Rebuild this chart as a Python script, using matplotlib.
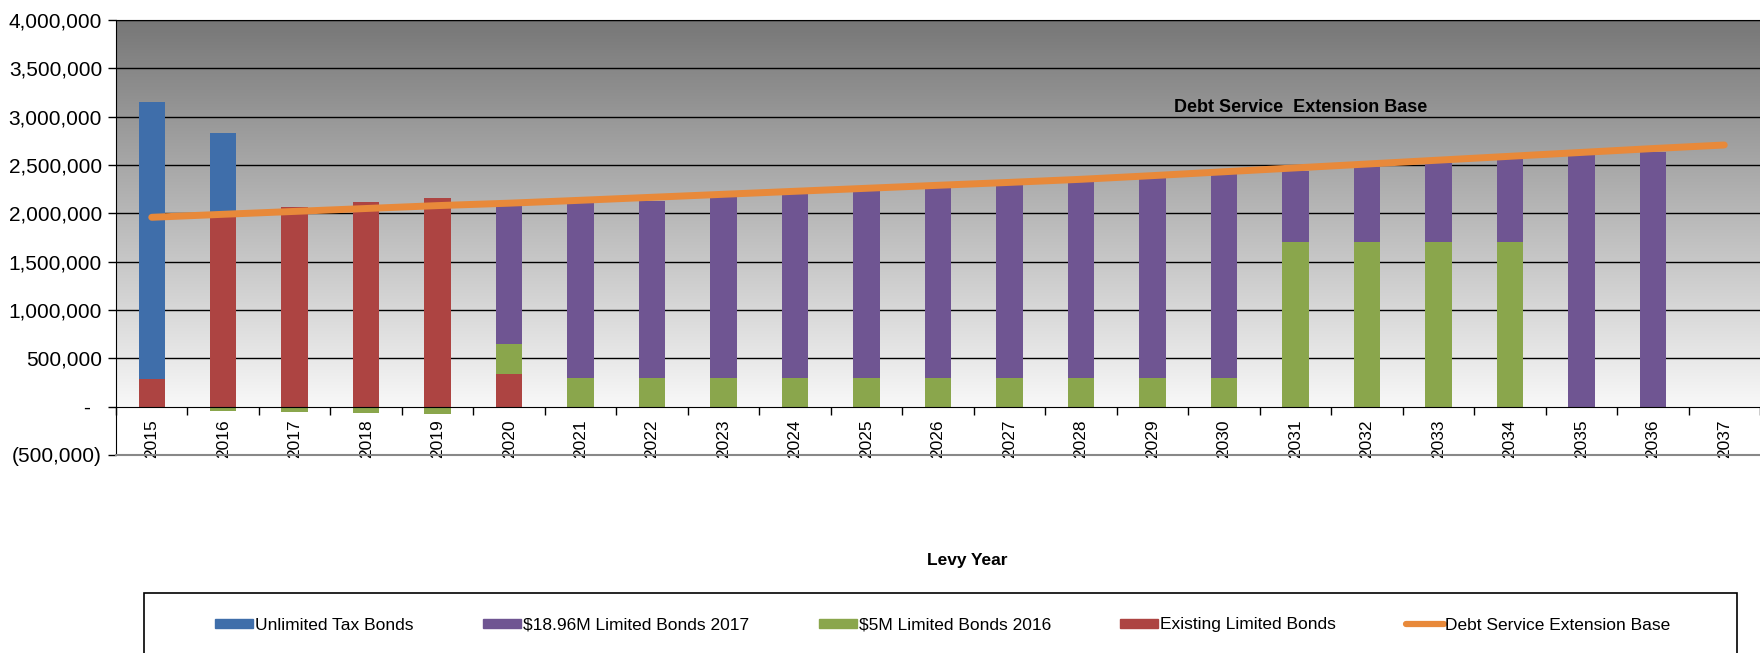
import numpy as np
import matplotlib.pyplot as plt
from matplotlib.ticker import FuncFormatter, FixedLocator
from matplotlib.patches import Rectangle
from matplotlib.lines import Line2D

years = list(range(2015, 2038))

# stacked series (bottom to top in the chart)
existing_limited = [290000, 1970000, 2069000, 2121000, 2155000, 338000,
                    0, 0, 0, 0, 0, 0, 0, 0, 0, 0, 0, 0, 0, 0, 0, 0, 0]
limited_5m_2016 = [0, -40000, -60000, -70000, -80000, 307000,
                   293000, 293000, 293000, 293000, 293000, 293000, 293000, 293000, 293000, 293000,
                   1700000, 1700000, 1700000, 1700000, 0, 0, 0]
limited_1896m_2017 = [0, 0, 0, 0, 0, 1441000,
                      1817000, 1838000, 1873000, 1907000, 1938000, 1973000, 2007000, 2041000, 2079000, 2121000,
                      741000, 783000, 817000, 859000, 2603000, 2638000, 0]
unlimited_tax = [2865000, 858000, 0, 0, 0, 0, 0, 0, 0, 0, 0, 0,
                 0, 0, 0, 0, 0, 0, 0, 0, 0, 0, 0]
extension_base = [1959000, 1990000, 2020000, 2050000, 2080000, 2105000, 2135000, 2166000,
                  2197000, 2228000, 2259000, 2290000, 2320000, 2352000, 2390000, 2430000,
                  2470000, 2510000, 2550000, 2590000, 2630000, 2670000, 2707000]

c_blue = "#3f6eaa"
c_purple = "#6f5592"
c_green = "#8aa64c"
c_red = "#ad4442"
c_orange = "#e8893a"

plt.rcParams['font.family'] = ['Liberation Sans', 'DejaVu Sans']

fig = plt.figure(figsize=(17.6, 6.53), dpi=100)
ax = fig.add_axes([116 / 1760, 1 - 455 / 653, 1 - 116 / 1760, (455 - 20) / 653])

x = np.arange(len(years))
ymin, ymax = -500000, 4000000

# gradient background: dark at top, fading to near white at zero
grad = np.linspace(0, 1, 256).reshape(-1, 1)
top = np.array([0x77, 0x77, 0x77]) / 255
bot = np.array([0xf8, 0xf8, 0xf8]) / 255
img = top + (bot - top) * grad[..., None]
ax.imshow(img, extent=(-0.5, len(years) - 0.5, 0, ymax), aspect='auto', zorder=0)
ax.axhspan(ymin, 0, color='white', zorder=0)

# gridlines
for g in range(500000, 4000001, 500000):
    ax.axhline(g, color='black', lw=1.0, zorder=1)

w = 0.37
ex = np.array(existing_limited)
g5 = np.array(limited_5m_2016)
p17 = np.array(limited_1896m_2017)
ut = np.array(unlimited_tax)

ax.bar(x, ex, w, color=c_red, zorder=2)
ax.bar(x, g5, w, bottom=np.where(g5 >= 0, ex, 0), color=c_green, zorder=2)
base_p = ex + np.clip(g5, 0, None)
ax.bar(x, p17, w, bottom=base_p, color=c_purple, zorder=2)
ax.bar(x, ut, w, bottom=base_p + p17, color=c_blue, zorder=2)

ax.plot(x, extension_base, color=c_orange, lw=5, solid_capstyle='round', zorder=3)

ax.text(14.3, 3100000, "Debt Service  Extension Base", fontsize=13, fontweight='bold',
        family=['Liberation Sans Narrow', 'Liberation Sans'], va='center', ha='left', zorder=4)

ax.set_xlim(-0.5, len(years) - 0.5)
ax.set_ylim(ymin, ymax)

# y axis
ax.yaxis.set_major_locator(FixedLocator(range(ymin, ymax + 1, 500000)))


def yfmt(v, pos):
    if v == 0:
        return "-  "
    if v < 0:
        return "({:,.0f})".format(-v)
    return "{:,.0f}".format(v)


ax.yaxis.set_major_formatter(FuncFormatter(yfmt))
ax.tick_params(axis='y', length=6, width=1, labelsize=15, pad=4)

# x axis sits on zero line
ax.spines['bottom'].set_position(('data', 0))
ax.spines['bottom'].set_color('black')
ax.spines['top'].set_color('black')
ax.spines['right'].set_visible(False)
ax.spines['left'].set_color('black')
ax.axhline(ymin, color='#888888', lw=1.5, zorder=5, clip_on=False)
ax.set_xticks(x)
ax.set_xticklabels([str(y) for y in years], rotation=90, fontsize=12.5)
ax.set_xticks(np.arange(-0.5, len(years), 1), minor=True)
ax.tick_params(axis='x', which='major', length=0, pad=9)
ax.tick_params(axis='x', which='minor', length=6, width=1, direction='out')

fig.text(967 / 1760, 1 - 560 / 653, "Levy Year", fontsize=12.5, fontweight='bold',
         ha='center', va='center')

# legend box
fig.patches.append(Rectangle((144 / 1760, -0.05), (1737 - 144) / 1760, 0.05 + 1 - 593 / 653,
                             transform=fig.transFigure, facecolor='white',
                             edgecolor='black', lw=1.2))
handles = [
    Rectangle((0, 0), 1, 1, color=c_blue),
    Rectangle((0, 0), 1, 1, color=c_purple),
    Rectangle((0, 0), 1, 1, color=c_green),
    Rectangle((0, 0), 1, 1, color=c_red),
    Line2D([0], [0], color=c_orange, lw=4.5, solid_capstyle='round'),
]
labels = ["Unlimited Tax Bonds", "\\$18.96M Limited Bonds 2017", "\\$5M Limited Bonds 2016",
          "Existing Limited Bonds", "Debt Service Extension Base"]
fig.legend(handles, labels, loc='center', bbox_to_anchor=(943 / 1760, 1 - 625 / 653), ncol=5,
           frameon=False, handlelength=2.2, handleheight=0.45, handletextpad=0.1,
           columnspacing=4.0, prop={'family': ['Liberation Sans Narrow', 'Liberation Sans'], 'size': 12.5})

fig.savefig("out.png", dpi=100)
